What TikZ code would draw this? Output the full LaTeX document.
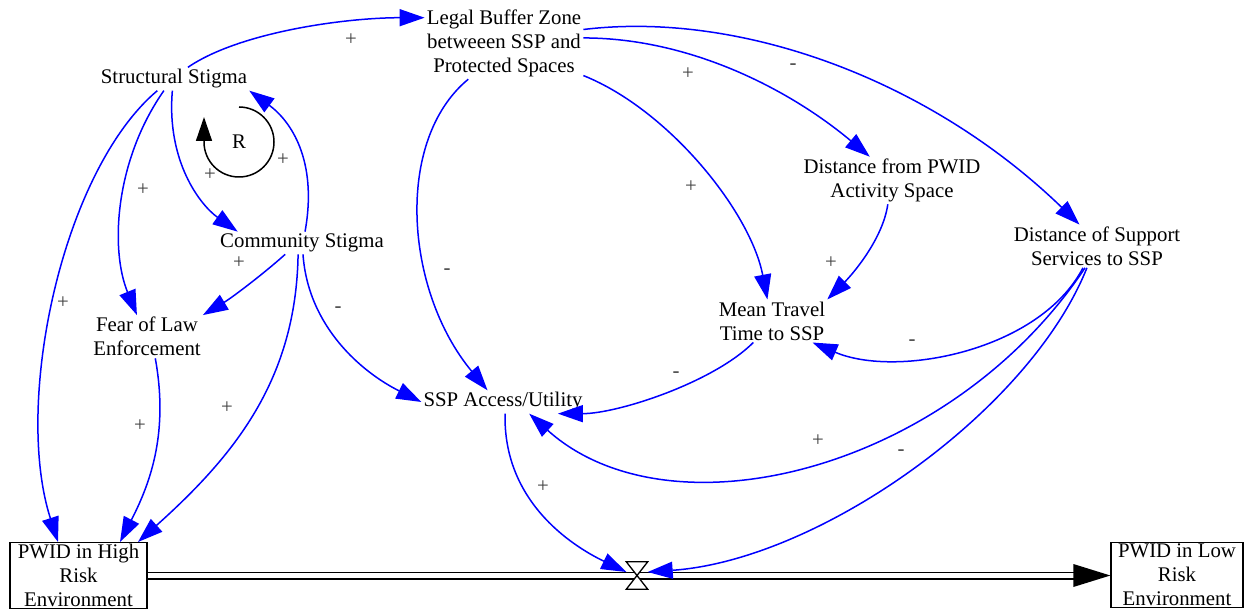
\documentclass[tikz,border=0pt]{standalone}
\usepackage{fontspec}
\setmainfont{Liberation Serif}
\usetikzlibrary{arrows.meta}

\begin{document}
\begin{tikzpicture}[x=1pt,y=-1pt,every node/.style={font=\fontsize{20.8}{24}\selectfont},
        var/.style={align=center,inner sep=2pt},
        stock/.style={draw,line width=1.3pt,align=center,inner sep=1.5pt,anchor=north},
        valve/.style={minimum width=21pt,minimum height=27pt,inner sep=0pt},
        link/.style={draw=blue,line width=1.5pt,-{Triangle[length=25pt,width=17pt]}},
        sign/.style={text=black!75,inner sep=0pt},
        pipe/.style={draw,line width=1.6pt,double distance=4.8pt}]
   \clip (0,0) rectangle (1246,609);

   \node[var] (SS) at (174,79) {Structural Stigma};
   \node[var] (LB) at (504,43.5) {Legal Buffer Zone\\betweeen SSP and\\Protected Spaces};
   \node[var] (CS) at (302,243) {Community Stigma};
   \node[var] (FL) at (147,336.7) {Fear of Law\\Enforcement};
   \node[var] (DA) at (892,180.5) {Distance from PWID\\Activity Space};
   \node[var] (DS) at (1097,246.2) {Distance of Support\\Services to SSP};
   \node[var] (MT) at (772,321) {Mean Travel\\Time to SSP};
   \node[var] (SA) at (503,402) {SSP Access/Utility};
   \node[stock,minimum width=137pt] (HR) at (78.5,542) {PWID in High\\Risk\\Environment};
   \node[stock,minimum width=132pt] (LR) at (1177,542) {PWID in Low\\Risk\\Environment};
   \node[valve] (V) at (637,575.5) {};
   \node (R) at (239,142) {R};

   % flow pipe
   \coordinate (E) at (LR.west |- V);
   \draw[pipe] (HR.east |- V) -- ([xshift=-36pt]E);
   \fill (E) -- ++(-37,-11.5) -- ++(0,23) -- cycle;
   \draw[line width=1.3pt,fill=white] (V.north west) -- (V.north east) -- (V.south west) -- (V.south east) -- cycle;

   % loop marker
   \draw[line width=1.5pt,-{Triangle[length=24pt,width=16pt]}] (R.center) ++(0,-35) arc[start angle=-90,end angle=180,radius=35] -- ++(0,-25);

   \draw[link] (SS.40) .. controls +(51,-35) and +(-80,0) .. (LB.162);
   \draw[link] (SS.-98) .. controls +(-6,70) and +(-38,-27) .. (CS.170);
   \draw[link] (CS.75) .. controls +(13,-72) and +(41,30) .. (SS.south east);
   \draw[link] (SS.-131) .. controls +(-49,70) and +(-27,-66) .. (FL.115);
   \draw[link] (SS.-145) .. controls +(-95,80) and +(-45,-140) .. ([xshift=-20.5pt]HR.north);
   \draw[link] (CS.-146) .. controls +(-20,18) and +(30,-18) .. (FL.north east);
   \draw[link] (CS.-109) .. controls +(-2,125) and +(97,-87) .. ([xshift=59.5pt]HR.north);
   \draw[link] (FL.-69) .. controls +(13,72) and +(32,-62) .. ([xshift=41.5pt]HR.north);
   \draw[link] (CS.-85) .. controls +(5,72) and +(-60,-30) .. (SA.west);
   \draw[link] (LB.-135) .. controls +(-74,61) and +(-83,-100) .. (SA.143);
   \draw[link] (LB.4) .. controls +(107,0) and +(-80,-67) .. (DA.133);
   \draw[link] (LB.10) .. controls +(157,-19) and +(-150,-145) .. (DS.129);
   \draw[link] (LB.-22) .. controls +(85,34) and +(-17,-88) .. (MT.102);
   \draw[link] (DA.-100) .. controls +(-5,35) and +(25,-25) .. (MT.north east);
   \draw[link] (DS.-123) .. controls +(-43,83) and +(84,36) .. (MT.-28);
   \draw[link] (DS.-119) .. controls +(-135,203) and +(141,127) .. (SA.-24);
   \draw[link] (DS.-115) .. controls +(-57,143) and +(172,-12) .. (V.18);
   \draw[link] (SA.-80) .. controls +(-2,87) and +(-56,-27) .. (V.162);
   \draw[link] (MT.-131) .. controls +(-40,40) and +(60,0) .. (SA.-12);

   \node[sign] (s1) at (351,40) {+};
   \node[sign] (s2) at (143,190) {+};
   \node[sign] (s3) at (210,175) {+};
   \node[sign] (s4) at (283,160) {+};
   \node[sign] (s5) at (239,263) {+};
   \node[sign] (s6) at (63,303) {+};
   \node[sign] (s7) at (140,426) {+};
   \node[sign] (s8) at (227,408) {+};
   \node[sign] (s9) at (338,310) {-};
   \node[sign] (s10) at (447,272) {-};
   \node[sign] (s11) at (688,74) {+};
   \node[sign] (s12) at (793,67) {-};
   \node[sign] (s13) at (691,187) {+};
   \node[sign] (s14) at (831,263) {+};
   \node[sign] (s15) at (912,343) {-};
   \node[sign] (s16) at (676,375) {-};
   \node[sign] (s17) at (818,441) {+};
   \node[sign] (s18) at (901,453) {-};
   \node[sign] (s19) at (543,487) {+};
\end{tikzpicture}
\end{document}
